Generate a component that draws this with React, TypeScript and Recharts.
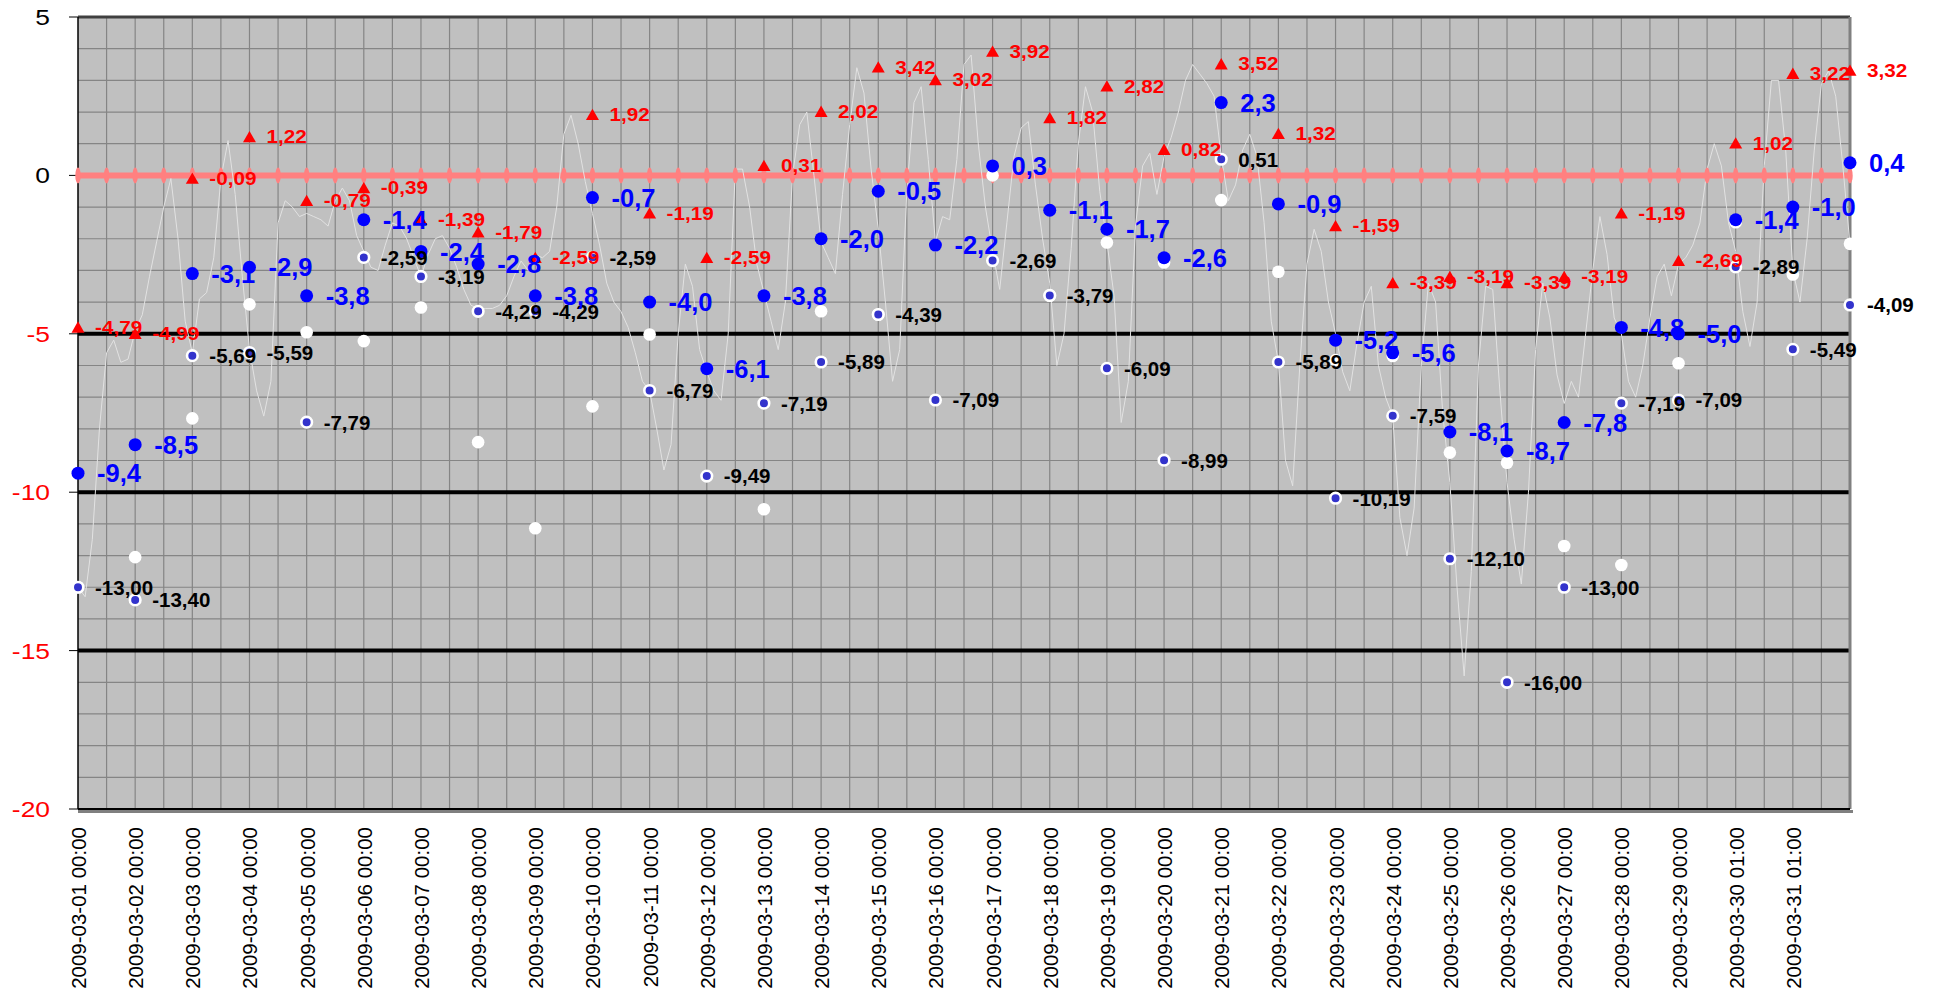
import React from "react";
import {
  ComposedChart,
  Line,
  XAxis,
  YAxis,
  ReferenceLine,
  ReferenceArea,
  LabelList,
} from "recharts";

// x axis labels, one per day (index = days since 2009-03-01)
const dayLabels = [
  "2009-03-01 00:00", "2009-03-02 00:00", "2009-03-03 00:00", "2009-03-04 00:00",
  "2009-03-05 00:00", "2009-03-06 00:00", "2009-03-07 00:00", "2009-03-08 00:00",
  "2009-03-09 00:00", "2009-03-10 00:00", "2009-03-11 00:00", "2009-03-12 00:00",
  "2009-03-13 00:00", "2009-03-14 00:00", "2009-03-15 00:00", "2009-03-16 00:00",
  "2009-03-17 00:00", "2009-03-18 00:00", "2009-03-19 00:00", "2009-03-20 00:00",
  "2009-03-21 00:00", "2009-03-22 00:00", "2009-03-23 00:00", "2009-03-24 00:00",
  "2009-03-25 00:00", "2009-03-26 00:00", "2009-03-27 00:00", "2009-03-28 00:00",
  "2009-03-29 00:00", "2009-03-30 01:00", "2009-03-31 01:00",
];

// daily values, 32 points (last one sits on the right edge)
const maxValues = [
  -4.79, -4.99, -0.09, 1.22, -0.79, -0.39, -1.39, -1.79, -2.59, 1.92, -1.19, -2.59,
  0.31, 2.02, 3.42, 3.02, 3.92, 1.82, 2.82, 0.82, 3.52, 1.32, -1.59, -3.39, -3.19,
  -3.39, -3.19, -1.19, -2.69, 1.02, 3.22, 3.32,
];
const meanValues = [
  -9.4, -8.5, -3.1, -2.9, -3.8, -1.4, -2.4, -2.8, -3.8, -0.7, -4.0, -6.1, -3.8, -2.0,
  -0.5, -2.2, 0.3, -1.1, -1.7, -2.6, 2.3, -0.9, -5.2, -5.6, -8.1, -8.7, -7.8, -4.8,
  -5.0, -1.4, -1.0, 0.4,
];
const minValues = [
  -13.0, -13.4, -5.69, -5.59, -7.79, -2.59, -3.19, -4.29, -4.29, -2.59, -6.79, -9.49,
  -7.19, -5.89, -4.39, -7.09, -2.69, -3.79, -6.09, -8.99, 0.51, -5.89, -10.19, -7.59,
  -12.1, -16.0, -13.0, -7.19, -7.09, -2.89, -5.49, -4.09,
];
const otherValues = [
  -13.0, -12.05, -7.67, -4.07, -4.95, -5.23, -4.17, -8.42, -11.14, -7.29, -5.02, -6.1,
  -10.54, -4.29, -4.39, -2.2, 0.0, -3.79, -2.12, -2.75, -0.78, -3.04, -5.83, -5.7,
  -8.75, -9.07, -11.7, -12.3, -5.93, -1.48, -3.13, -2.16,
];

// temperature every 3 hours, one row per day (00,03,...,21)
const hourlyByDay = [
  [-13.0, -13.3, -11.5, -8.0, -5.6, -5.2, -5.9, -5.8],
  [-4.9, -4.4, -3.2, -2.1, -1.0, -0.1, -2.0, -4.6],
  [-5.6, -3.9, -3.7, -2.6, -0.1, 1.1, -0.6, -3.2],
  [-5.5, -6.8, -7.6, -6.5, -1.5, -0.8, -1.0, -1.3],
  [-1.2, -1.3, -1.4, -1.6, -0.8, -0.4, -0.8, -1.9],
  [-2.4, -2.9, -3.0, -2.2, -1.5, -1.6, -2.0, -2.6],
  [-3.2, -2.5, -2.0, -1.9, -2.3, -2.9, -3.6, -4.1],
  [-4.2, -4.2, -4.2, -4.1, -3.8, -3.2, -2.7, -3.0],
  [-2.5, -2.6, -2.4, -1.0, 1.3, 1.9, 1.0, -0.2],
  [-1.2, -2.2, -3.4, -4.0, -4.3, -4.8, -5.6, -6.5],
  [-6.8, -8.0, -9.3, -8.5, -5.0, -2.8, -3.5, -5.5],
  [-6.2, -6.8, -7.1, -5.0, 0.2, 0.2, -1.0, -2.8],
  [-3.7, -4.6, -5.5, -4.0, 0.0, 1.6, 2.0, 0.0],
  [-2.1, -2.6, -3.1, -0.6, 1.6, 3.4, 2.6, 0.2],
  [-1.7, -4.0, -6.5, -5.5, -0.5, 2.3, 2.8, 0.5],
  [-2.1, -1.3, -1.4, 0.5, 3.5, 3.8, 1.0, -1.0],
  [-2.4, -3.6, -1.5, 0.6, 1.5, 1.7, -0.3, -2.0],
  [-3.4, -6.0, -5.0, -2.3, 1.0, 2.8, 2.0, -0.5],
  [-2.1, -3.8, -7.8, -6.5, -1.6, 0.3, 0.7, -0.6],
  [0.6, 1.2, 2.0, 3.0, 3.5, 3.2, 2.9, 2.5],
  [0.6, -0.8, -0.3, 0.8, 1.3, 0.6, -1.5, -4.6],
  [-5.9, -9.0, -9.8, -6.0, -2.8, -1.7, -2.4, -4.0],
  [-5.0, -6.2, -6.8, -5.3, -4.0, -3.5, -6.0, -7.0],
  [-7.6, -10.8, -12.0, -10.5, -6.0, -3.4, -4.0, -7.5],
  [-9.7, -13.0, -15.8, -12.5, -6.0, -3.5, -3.6, -6.8],
  [-9.7, -11.5, -12.9, -10.0, -5.5, -3.4, -4.5, -6.3],
  [-7.2, -6.5, -7.0, -5.0, -3.0, -1.3, -2.5, -4.5],
  [-5.0, -6.5, -7.0, -6.0, -4.5, -3.2, -2.8, -3.8],
  [-2.8, -2.6, -2.2, -1.5, 0.2, 1.0, 0.3, -1.5],
  [-2.4, -4.3, -5.4, -4.0, 0.3, 3.0, 3.0, 0.8],
  [-3.0, -4.0, -2.0, 0.8, 2.9, 3.3, 2.5, 0.3],
];
const hourlyLast = -2.2;

const yTicks = [5, 0, -5, -10, -15, -20];
const zeroLevel = 0;

const FONT = "'Liberation Sans', Arial, sans-serif";

const dailyData = maxValues.map((mx, i) => ({
  x: i,
  max: mx,
  mean: meanValues[i],
  min: minValues[i],
  other: otherValues[i],
}));

const hourlyData = hourlyByDay
  .flatMap((row, d) => row.map((v, k) => ({ x: d + k / 8, v })))
  .concat([{ x: hourlyByDay.length, v: hourlyLast }]);

const dayTicks = dayLabels.map((_, i) => i);
const halfDays = Array.from({ length: 63 }, (_, i) => i / 2);
const unitLines = Array.from({ length: 24 }, (_, i) => 4 - i).filter(
  (v) => v % 5 !== 0
);
const zeroData = halfDays.map((x) => ({ x, v: zeroLevel }));

const comma = (v: number, d: number) => v.toFixed(d).replace(".", ",");

const YTick = ({ x, y, payload }: any) => (
  <text
    transform={`translate(${x},${y}) scale(1.2,1)`}
    textAnchor="end"
    dy="0.36em"
    fontSize={22}
    fontFamily={FONT}
    fill={payload.value < 0 ? "#FF0000" : "#000000"}
  >
    {payload.value}
  </text>
);

const XTick = ({ x, y, payload }: any) => (
  <text
    transform={`translate(${x + 8},${y}) rotate(-90)`}
    textAnchor="end"
    fontSize={20.5}
    fontFamily={FONT}
    fill="#000000"
  >
    {dayLabels[payload.value]}
  </text>
);

const Triangle = (p: any) =>
  p.cx == null ? null : (
    <polygon
      key={p.key}
      points={`${p.cx},${p.cy - 5.8} ${p.cx - 6.5},${p.cy + 5.5} ${p.cx + 6.5},${p.cy + 5.5}`}
      fill="#FF0000"
    />
  );

const BigDot = (p: any) =>
  p.cx == null ? null : <circle key={p.key} cx={p.cx} cy={p.cy} r={6.5} fill="#0000FF" />;

const RingDot = (p: any) =>
  p.cx == null ? null : (
    <circle key={p.key} cx={p.cx} cy={p.cy} r={5.3} fill="#3333CC" stroke="#FFFFFF" strokeWidth={2.6} />
  );

const WhiteDot = (p: any) =>
  p.cx == null ? null : <circle key={p.key} cx={p.cx} cy={p.cy} r={6.3} fill="#FFFFFF" />;

const PinkMark = (p: any) =>
  p.cx == null ? null : <ellipse key={p.key} cx={p.cx} cy={p.cy} rx={2.7} ry={8} fill="#FF8080" />;

const makeLabel = (color: string, size: number, dx: number, digits: number, stretch: number) =>
  (p: any) => {
    const px = p.x ?? p.viewBox?.x;
    const py = p.y ?? p.viewBox?.y;
    if (px == null || p.value == null) return null;
    return (
      <text
        key={p.index}
        transform={`translate(${px + dx},${py}) scale(${stretch},1)`}
        dy="0.36em"
        fontSize={size}
        fontWeight="bold"
        fontFamily={FONT}
        fill={color}
      >
        {comma(Number(p.value), digits)}
      </text>
    );
  };

const bottomShadow = (p: any) => (
  <g>
    <line x1={p.x1} y1={p.y1} x2={p.x2} y2={p.y2} stroke="#000000" strokeWidth={2} />
    <line x1={p.x1} y1={p.y1 + 2.5} x2={p.x2 + 3} y2={p.y2 + 2.5} stroke="#808080" strokeWidth={3} />
  </g>
);

export default function App() {
  return (
    <div style={{ width: 1933, height: 995 }}>
      <style>{"body{margin:0;overflow:hidden}"}</style>
      <ComposedChart
        width={1933}
        height={995}
        data={dailyData}
        margin={{ top: 17, right: 83, bottom: 0, left: 0 }}
      >
        <XAxis
          dataKey="x"
          type="number"
          domain={[0, 31]}
          ticks={dayTicks}
          interval={0}
          height={186}
          tickLine={false}
          axisLine={false}
          tickSize={0}
          tickMargin={18}
          tick={<XTick />}
        />
        <YAxis
          type="number"
          domain={[-20, 5]}
          ticks={yTicks}
          interval={0}
          width={78}
          tickSize={9}
          tickMargin={19}
          tickLine={{ stroke: "#000000" }}
          axisLine={{ stroke: "#000000", strokeWidth: 1.5 }}
          tick={<YTick />}
        />

        <ReferenceArea x1={0} x2={31} y1={-20} y2={5} fill="#C0C0C0" fillOpacity={1} stroke="none" />

        {halfDays
          .filter((h) => h > 0 && h < 31)
          .map((h) => (
            <ReferenceLine key={`v${h}`} x={h} stroke="#858585" strokeWidth={1.2} />
          ))}
        {unitLines.map((v) => (
          <ReferenceLine key={`h${v}`} y={v} stroke="#858585" strokeWidth={1.2} />
        ))}
        {[-5, -10, -15].map((v) => (
          <ReferenceLine key={`b${v}`} y={v} stroke="#000000" strokeWidth={4} />
        ))}
        <ReferenceLine y={5} stroke="#404040" strokeWidth={3} />
        <ReferenceLine x={31} stroke="#808080" strokeWidth={3} />
        <ReferenceLine y={-20} shape={bottomShadow} />

        <Line
          data={zeroData}
          dataKey="v"
          stroke="#FF8080"
          strokeWidth={6}
          dot={PinkMark}
          activeDot={false}
          isAnimationActive={false}
        />
        <Line
          data={hourlyData}
          dataKey="v"
          stroke="#E2E2E2"
          strokeWidth={1}
          dot={false}
          activeDot={false}
          isAnimationActive={false}
        />
        <Line
          dataKey="other"
          stroke="none"
          dot={WhiteDot}
          activeDot={false}
          isAnimationActive={false}
        />
        <Line
          dataKey="min"
          stroke="none"
          dot={RingDot}
          activeDot={false}
          isAnimationActive={false}
        >
          <LabelList dataKey="min" content={makeLabel("#000000", 20.5, 17, 2, 1)} />
        </Line>
        <Line
          dataKey="mean"
          stroke="none"
          dot={BigDot}
          activeDot={false}
          isAnimationActive={false}
        >
          <LabelList dataKey="mean" content={makeLabel("#0000FF", 25.5, 19, 1, 1)} />
        </Line>
        <Line
          dataKey="max"
          stroke="none"
          dot={Triangle}
          activeDot={false}
          isAnimationActive={false}
        >
          <LabelList dataKey="max" content={makeLabel("#FF0000", 18, 17, 2, 1.15)} />
        </Line>
      </ComposedChart>
    </div>
  );
}
